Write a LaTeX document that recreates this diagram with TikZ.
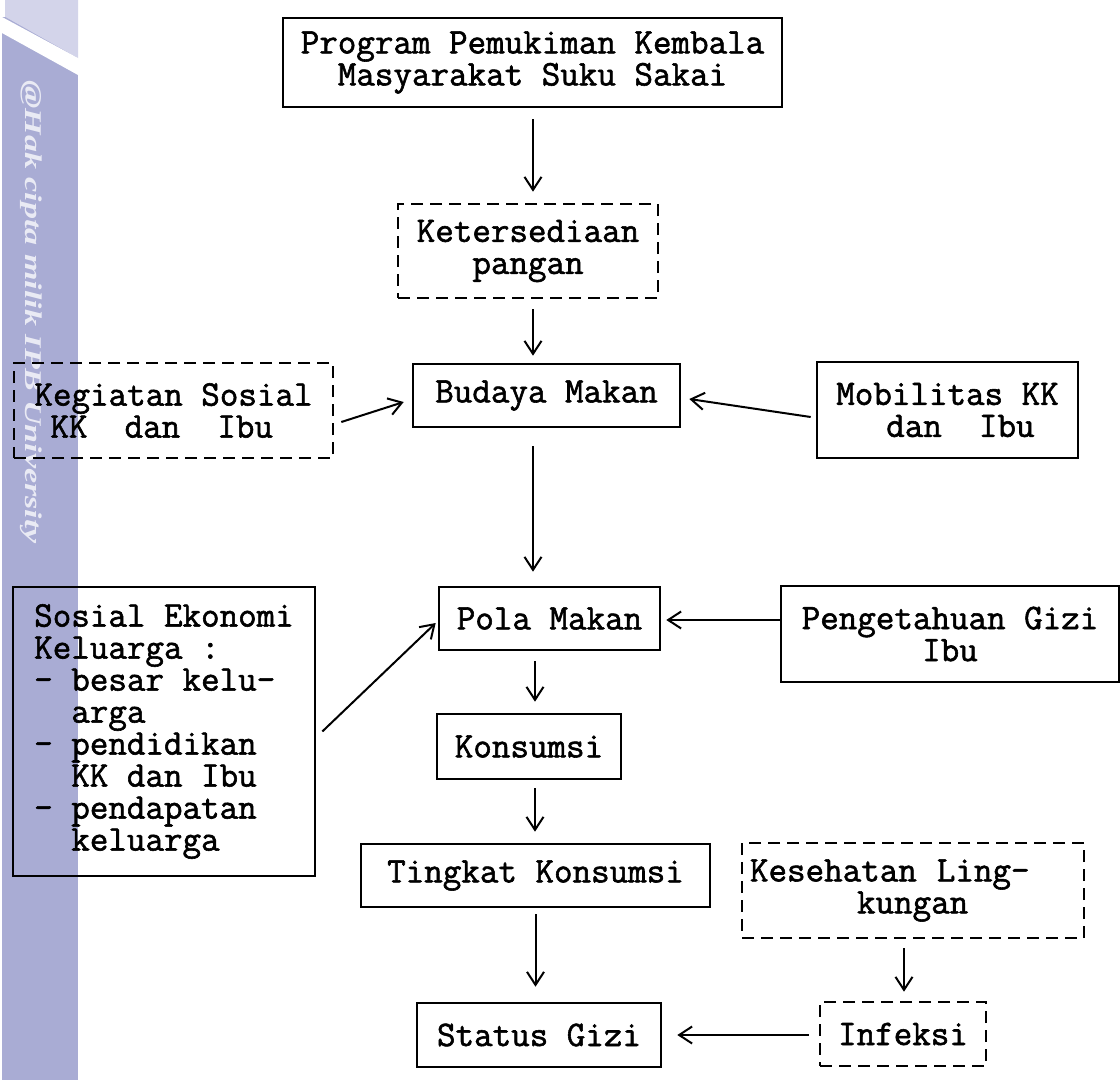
\documentclass[tikz,border=0pt]{standalone}
\usepackage{fontspec}
\newfontfamily\tw[FakeBold=1.6]{Latin Modern Mono}
\newfontfamily\wmfont{Liberation Serif}
\usetikzlibrary{arrows.meta,calc}
\definecolor{stripc}{HTML}{A9ACD4}
\definecolor{stripl}{HTML}{D3D4EA}
\begin{document}
\begin{tikzpicture}[x=1pt,y=-1pt,
  box/.style={draw, line width=2.6pt, inner sep=0pt, align=center,
    font=\tw\fontsize{36}{32}\selectfont},
  dbox/.style={box, dash pattern=on 12pt off 7pt},
  lbox/.style={box, align=left},
  arr/.style={line width=2pt, -{Straight Barb[length=13pt,width=17pt,line width=2pt]}}]
\useasboundingbox (0,0) rectangle (1120,1080);
\fill[white] (0,0) rectangle (1120,1080);
% watermark strip
\fill[stripc] (2,0) rectangle (78,1080);
\fill[stripl] (2,0) -- (78,0) -- (78,58) -- (2,15) -- cycle;
\fill[white] (2,17) -- (78,58) -- (78,75) -- (2,33) -- cycle;
\fill[white] (2,0) rectangle (5,17);
\node[rotate=-90, anchor=west, inner sep=0pt, text=white, opacity=0.75,
  font=\wmfont\bfseries\itshape\fontsize{24}{24}\selectfont] (wm) at (31,80)
  {\scalebox{1.42}[1]{@Hak cipta milik IPB University}};
% boxes
\node[box, minimum width=499pt, minimum height=89pt] (prog) at (532.5,62.5)
  {Program Pemukiman Kembala\\Masyarakat Suku Sakai};
\node[dbox, minimum width=260pt, minimum height=94pt] (keter) at (528,251)
  {Ketersediaan\\pangan};
\node[box, minimum width=267pt, minimum height=63pt] (budaya) at (546.5,395.5)
  {Budaya Makan};
\node[dbox, align=left, minimum width=319pt, minimum height=95pt] (kegiatan) at (173.5,410.5)
  {Kegiatan Sosial\\\hspace*{16pt}KK~~dan~~Ibu};
\node[lbox, minimum width=261pt, minimum height=96pt] (mobil) at (947.5,410)
  {Mobilitas KK\\\hspace*{50pt}dan~~Ibu};
\node[box, minimum width=221pt, minimum height=63pt] (pola) at (549.5,618.5)
  {Pola Makan};
\node[box, minimum width=338pt, minimum height=96pt] (penget) at (950,634)
  {Pengetahuan Gizi\\Ibu};
\node[lbox, minimum width=302pt, minimum height=289pt] (sosial) at (164,731.5)
  {Sosial Ekonomi\\Keluarga :\\- besar kelu-\\~~arga\\- pendidikan\\~~KK dan Ibu\\- pendapatan\\~~keluarga};
\node[box, minimum width=184pt, minimum height=65pt] (kons) at (529,746.5)
  {Konsumsi};
\node[box, minimum width=349pt, minimum height=63pt] (tingkat) at (535.5,875.5)
  {Tingkat Konsumsi};
\node[dbox, align=left, text width=326pt, inner xsep=8pt, minimum height=95pt] (keseh) at (913,890.5)
  {Kesehatan\hspace*{8pt}~Ling-\\\hspace*{107pt}kungan};
\node[box, minimum width=244pt, minimum height=64pt] (status) at (539,1035)
  {Status Gizi};
\node[dbox, minimum width=166pt, minimum height=64pt] (infeksi) at (903,1034)
  {Infeksi};
% connectors
\draw[arr] ($(prog.south)+(0.5,11)$) -- ($(keter.north -| prog.south)+(0.5,-11)$);
\draw[arr] ($(keter.south)+(5,10)$) -- ($(budaya.north -| keter.south)+(5,-7)$);
\draw[arr] ($(budaya.south)+(-13.5,18)$) -- ($(pola.north -| budaya.south)+(-13.5,-14)$);
\draw[arr] ($(pola.south)+(-14.5,10)$) -- ($(kons.north -| pola.south)+(-14.5,-11)$);
\draw[arr] ($(kons.south)+(6,8)$) -- ($(tingkat.north -| kons.south)+(6,-11)$);
\draw[arr] ($(tingkat.south)+(0,6)$) -- ($(status.north -| tingkat.south)+(0,-15)$);
\draw[arr] ($(keseh.south)+(-9,9)$) -- ($(infeksi.north -| keseh.south)+(-9,-9)$);
\draw[arr] ($(infeksi.west)+(-10,1)$) -- ($(status.east |- infeksi.west)+(15,1)$);
\draw[arr] ($(penget.west)+(0,-14)$) -- ($(pola.east |- penget.west)+(5,-14)$);
\draw[arr] ($(mobil.west)+(-5,7)$) -- ($(budaya.east)+(8,3.5)$);
\draw[arr] ($(kegiatan.east)+(7,11.5)$) -- ($(budaya.west)+(-8,6.5)$);
\draw[arr] ($(sosial.east)+(6,0)$) -- ($(pola.west)+(-2,4.5)$);
\end{tikzpicture}
\end{document}
